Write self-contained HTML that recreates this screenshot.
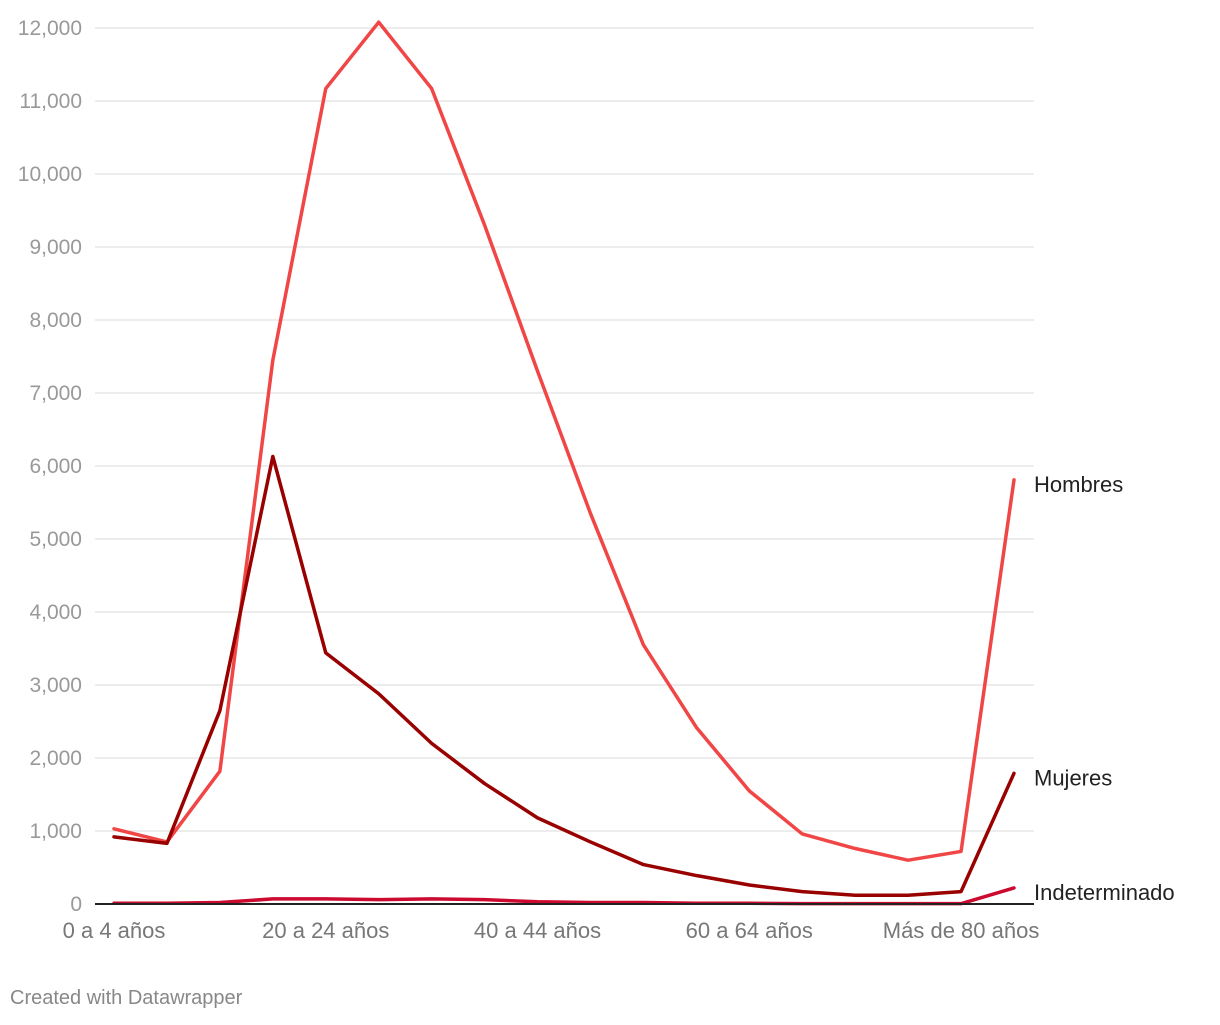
<!DOCTYPE html>
<html><head><meta charset="utf-8"><style>
body{margin:0;background:#fff;font-family:"Liberation Sans",Roboto,sans-serif;}
svg text{font-family:"Liberation Sans",sans-serif;}
</style></head><body>
<svg id="chart" width="1220" height="1020" xmlns="http://www.w3.org/2000/svg">
<g id="grid"></g><g id="lines"></g><g id="labels"></g>
<text x="10" y="1004" font-size="20" fill="#888">Created with Datawrapper</text>
</svg>
<script>
const categories=["0 a 4 años","5 a 9 años","10 a 14 años","15 a 19 años","20 a 24 años","25 a 29 años","30 a 34 años","35 a 39 años","40 a 44 años","45 a 49 años","50 a 54 años","55 a 59 años","60 a 64 años","65 a 69 años","70 a 74 años","75 a 79 años","Más de 80 años","No especificado"];
const xTickLabels=["0 a 4 años","20 a 24 años","40 a 44 años","60 a 64 años","Más de 80 años"];
const yTicks=[0,1000,2000,3000,4000,5000,6000,7000,8000,9000,10000,11000,12000];
const hombres=[1030,850,1820,7450,11170,12080,11170,9300,7300,5350,3550,2420,1550,960,760,600,720,5810];
const mujeres=[920,830,2650,6130,3440,2880,2200,1650,1180,850,540,390,260,170,120,120,170,1790];
const indeterminado=[10,10,20,70,70,60,70,60,30,20,20,10,10,5,5,5,5,220];
const NS="http://www.w3.org/2000/svg";
const x=i=>114+i*(1014-114)/(categories.length-1);
const y=v=>904-v*(876/12000);
const grid=document.getElementById('grid'),lines=document.getElementById('lines'),labels=document.getElementById('labels');
function mk(tag,attrs,parent){const e=document.createElementNS(NS,tag);for(const k in attrs)e.setAttribute(k,attrs[k]);parent.appendChild(e);return e;}
yTicks.forEach(v=>{
  if(v>0){const l=mk('line',{x1:95,x2:1034,y1:y(v),y2:y(v),stroke:'#e2e2e2','stroke-width':1.3},grid);
  
  }
  const t=mk('text',{x:82,y:y(v)+7,'text-anchor':'end','font-size':21,fill:'#999'},grid);
  
  
  t.textContent=v.toLocaleString('en-US');
});
xTickLabels.forEach(lbl=>{const i=categories.indexOf(lbl);
  const t=mk('text',{x:x(i),y:938,'text-anchor':'middle','font-size':22,fill:'#777'},grid);
  
  
  t.textContent=lbl;});
const series=[["Hombres",hombres,"#f04646"],["Mujeres",mujeres,"#990000"],["Indeterminado",indeterminado,"#cc0a2f"]];
series.forEach(([name,vals,col])=>{
  const p=mk('polyline',{points:vals.map((v,i)=>x(i)+','+y(v)).join(' '),fill:'none',stroke:col,'stroke-width':3.5,'stroke-linejoin':'round','stroke-linecap':'round'},lines);
  
  
  const t=mk('text',{x:1034,y:y(vals[vals.length-1])+12,'font-size':22,fill:'#222'},labels);
  
  
  t.textContent=name;
});
const ax=mk('line',{x1:95,x2:1034,y1:y(0),y2:y(0),stroke:'#222','stroke-width':2},lines);


</script>
</body></html>
